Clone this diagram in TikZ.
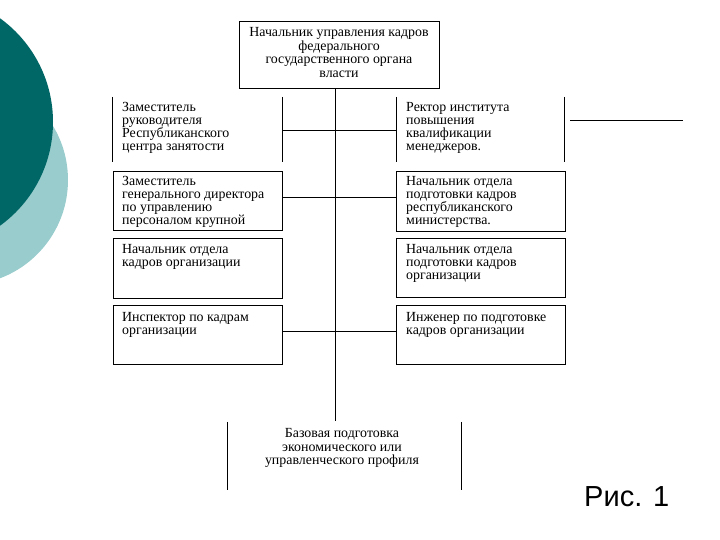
\documentclass[tikz,border=0pt]{standalone}
\usepackage{fontspec}
\setmainfont{Liberation Serif}
\newfontfamily\capfont{Liberation Sans}
\definecolor{darkteal}{RGB}{0,102,102}
\definecolor{lightteal}{RGB}{153,204,204}
\tikzset{
  orgline/.style={line width=0.9pt, black},
  boxnode/.style={draw, line width=0.9pt, inner sep=0pt, minimum width=169pt, minimum height=59pt},
  opennode/.style={inner sep=0pt, minimum width=169pt, minimum height=65pt},
  txt/.style={anchor=north west, inner sep=0pt, align=left, font=\fontsize{13.9}{13.0}\selectfont},
  ctxt/.style={anchor=north, inner sep=0pt, align=center, font=\fontsize{13.9}{13.5}\selectfont}
}
\begin{document}
\begin{tikzpicture}[x=1pt,y=-1pt]
\useasboundingbox (0,0) rectangle (720,540);
\begin{scope}
\clip (0,0) rectangle (720,540);
\fill[lightteal] (-37,180) circle (105);
\fill[darkteal] (-75,122) circle (128);
\end{scope}

% top box
\node[boxnode, minimum width=200pt, minimum height=67pt] (top) at (339,54.5) {};
\node[ctxt] (toptxt) at (339,27.5) {Начальник управления кадров\\федерального\\государственного органа\\власти};

% row 1 (open boxes, sides only)
\node[opennode] (L1) at (197.5,129.5) {};
\node[opennode, minimum width=167pt] (R1) at (480.5,129.5) {};
\draw[orgline] (L1.north west) -- (L1.south west);
\draw[orgline] (L1.north east) -- (L1.south east);
\draw[orgline] (R1.north west) -- (R1.south west);
\draw[orgline] (R1.north east) -- (R1.south east);
\node[txt] (L1t) at (122,102.5) {Заместитель\\руководителя\\Республиканского\\центра занятости};
\node[txt] (R1t) at (406,102.5) {Ректор института\\повышения\\квалификации\\менеджеров.};
\coordinate (ex1) at (570,120);
\coordinate (ex2) at (683,120);
\draw[orgline] (ex1) -- (ex2);

% row 2
\node[boxnode] (L2) at (197.5,200.5) {};
\node[boxnode, minimum height=60pt] (R2) at (481,201) {};
\node[txt] (L2t) at (122,176.5) {Заместитель\\генерального директора\\по управлению\\персоналом крупной};
\node[txt] (R2t) at (406,176.5) {Начальник отдела\\подготовки кадров\\республиканского\\министерства.};

% row 3
\node[boxnode, minimum height=60pt] (L3) at (197.5,268) {};
\node[boxnode] (R3) at (481,267.5) {};
\node[txt] (L3t) at (122,244.5) {Начальник отдела\\кадров организации};
\node[txt] (R3t) at (406,244.5) {Начальник отдела\\подготовки кадров\\организации};

% row 4
\node[boxnode] (L4) at (197.5,334.5) {};
\node[boxnode] (R4) at (481,334.5) {};
\node[txt] (L4t) at (122,312) {Инспектор по кадрам\\организации};
\node[txt] (R4t) at (406,312) {Инженер по подготовке\\кадров организации};

% bottom open box
\node[inner sep=0pt, minimum width=233pt, minimum height=68pt] (bot) at (344.5,456) {};
\draw[orgline] (bot.north west) -- (bot.south west);
\draw[orgline] (bot.north east) -- (bot.south east);
\node[ctxt] (bott) at (342,428.5) {Базовая подготовка\\экономического или\\управленческого профиля};

% spine
\coordinate (sp1) at (top.south -| 335,0);
\coordinate (sp2) at (335,421);
\draw[orgline] (sp1) -- (sp2);

% horizontal connectors
\draw[orgline] (L1.east |- 0,130) -- (R1.west |- 0,130);
\draw[orgline] (L2.east |- 0,197) -- (R2.west |- 0,197);
\draw[orgline] (L4.east |- 0,331) -- (R4.west |- 0,331);

% caption
\node[anchor=base west, inner sep=0pt, font=\capfont\fontsize{29}{32}\selectfont] (cap) at (584,506) {Рис. 1};
\end{tikzpicture}
\end{document}
